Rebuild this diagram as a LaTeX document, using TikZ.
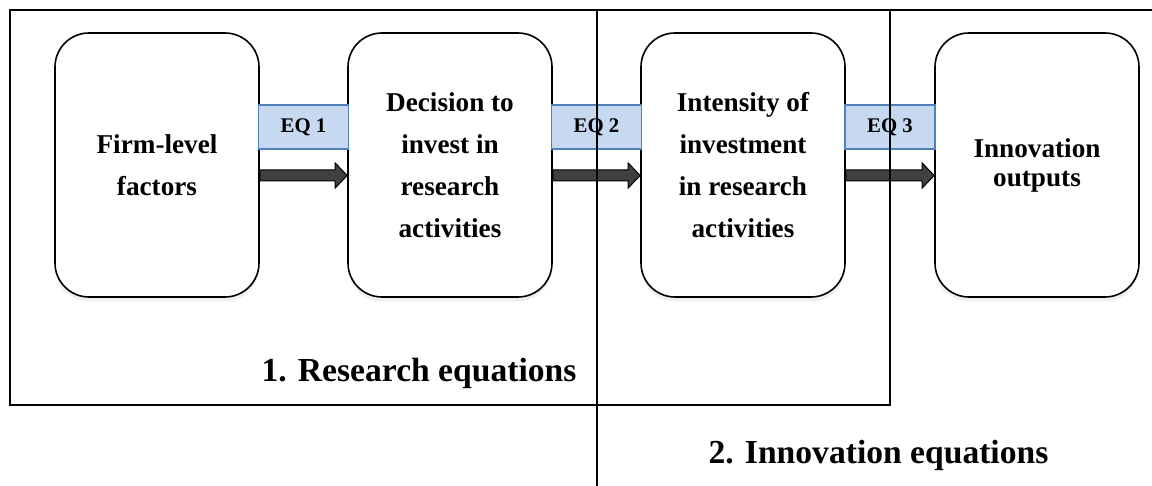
\documentclass[tikz,border=0pt]{standalone}
\usepackage{fontspec}
\setmainfont{Liberation Serif}
\usetikzlibrary{calc}
\usetikzlibrary{shadows}

\definecolor{eqfill}{HTML}{C6D9F1}
\definecolor{eqline}{HTML}{4F81BD}
\definecolor{arrowgray}{HTML}{404040}

\tikzset{
  stage/.style={draw, line width=0.8pt, rounded corners=17pt, fill=white,
    minimum width=102pt, minimum height=132pt, align=center,
    font=\bfseries\fontsize{13.6}{21}\selectfont,
    drop shadow={shadow xshift=0pt, shadow yshift=-2.2pt, opacity=0.13}},
  eqbox/.style={draw=eqline, fill=eqfill, line width=0.6pt, minimum width=45pt,
    minimum height=22pt, inner sep=0pt, font=\bfseries\fontsize{10.4}{12}\selectfont},
  fatarrow/.style={draw=black, fill=arrowgray, line width=0.5pt},
  frame/.style={line width=0.8pt},
  title/.style={font=\bfseries\fontsize{16.8}{20}\selectfont, anchor=base}
}

\begin{document}
\begin{tikzpicture}[x=0.5pt, y=-0.5pt]
    \useasboundingbox (0,0) rectangle (1152,486);
    % the four stages
    \node[stage] (firm) at (157,165) {Firm-level\\factors};
    \node[stage] (decision) at (450,165) {Decision to\\invest in\\research\\activities};
    \node[stage] (intensity) at (743,165) {Intensity of\\investment\\in research\\activities};
    \node[stage, font=\bfseries\fontsize{13.6}{14.5}\selectfont] (outputs) at (1037,165) {Innovation\\outputs};
    % equation labels
    \node[eqbox] (eq1) at (303.5,127) {EQ 1};
    \node[eqbox] (eq2) at (596.5,127) {EQ 2};
    \node[eqbox] (eq3) at (890,127) {EQ 3};
    % block arrows
    \foreach \a/\b in {firm/decision, decision/intensity, intensity/outputs}
        \draw[fatarrow] ($(\a.east)+(0,-2.5pt)$) -- ($(\b.west)+(-6pt,-2.5pt)$)
            -- ($(\b.west)+(-6pt,1pt)$) -- ($(\b.west)+(0,-5.25pt)$)
            -- ($(\b.west)+(-6pt,-11.5pt)$) -- ($(\b.west)+(-6pt,-8pt)$)
            -- ($(\a.east)+(0,-8pt)$) -- cycle;
    % the two groups of equations
    \draw[frame] (10,10) rectangle (890,405);
    \draw[frame] (890,10) -- (1152,10);
    \draw[frame] (597,10) -- (597,486);
    \node[title] (research) at (419,382) {1. Research equations};
    \node[title] (innovation) at (878.5,463) {2. Innovation equations};
\end{tikzpicture}
\end{document}
